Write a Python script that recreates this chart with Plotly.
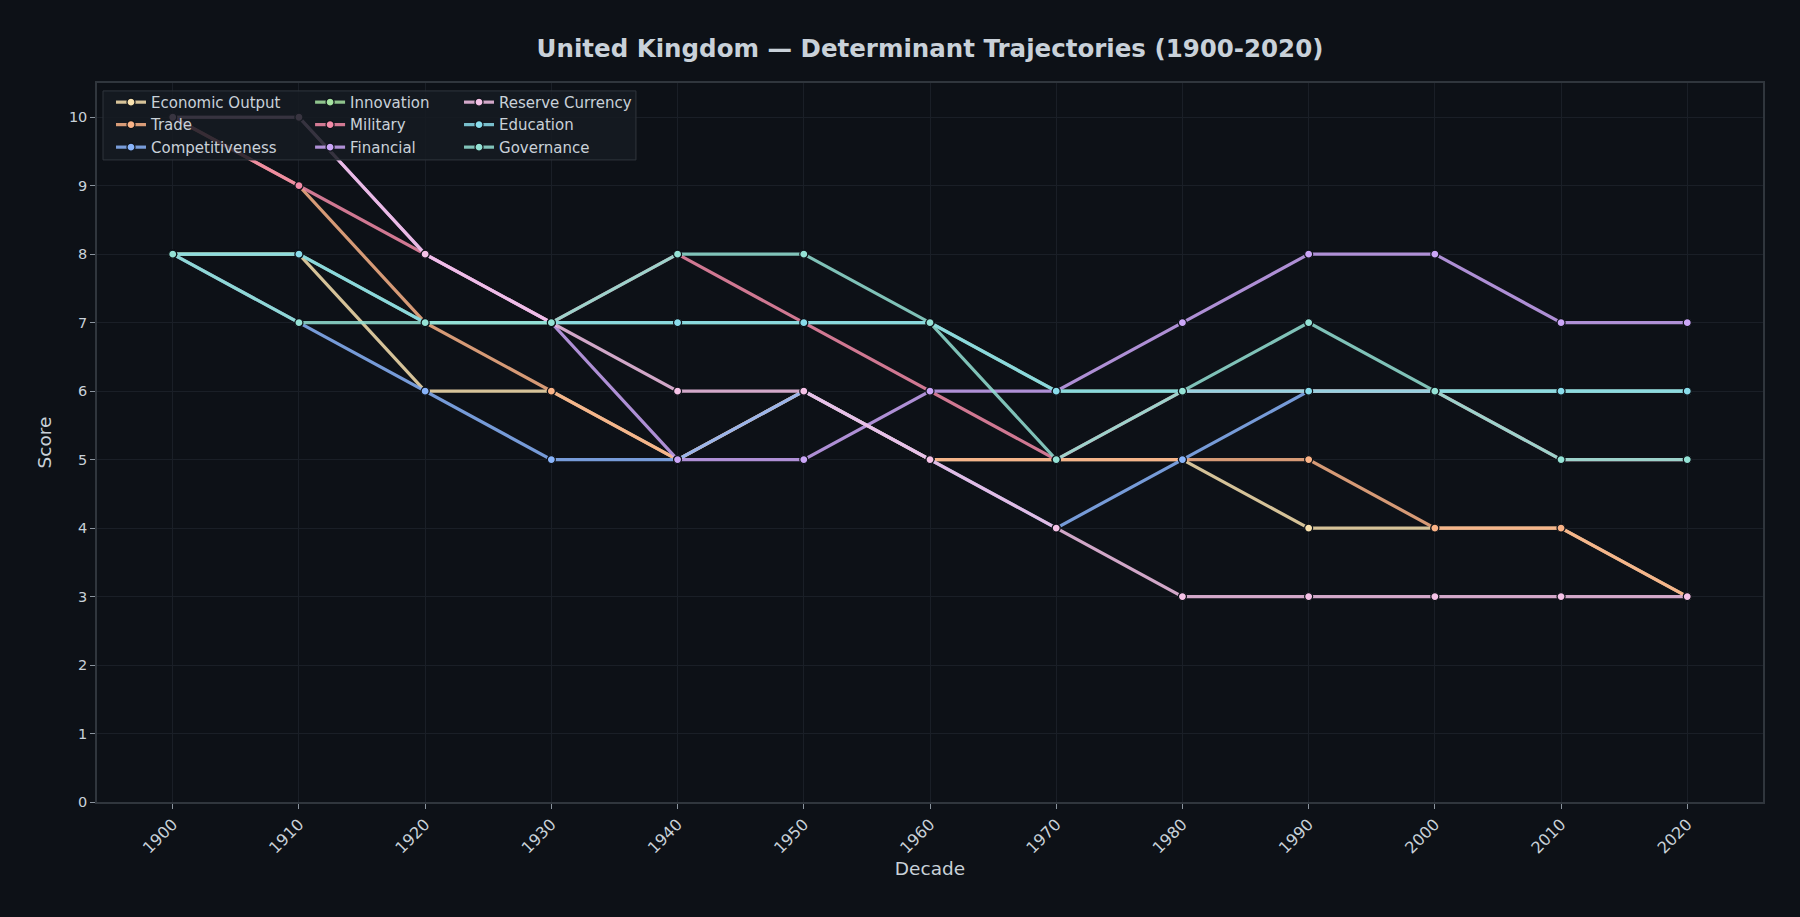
import plotly.graph_objects as go

# decades on the x axis
decades = [1900, 1910, 1920, 1930, 1940, 1950, 1960, 1970, 1980, 1990, 2000, 2010, 2020]

# determinant scores (0-10)
economic_output = [8, 8, 6, 6, 5, 6, 5, 5, 5, 4, 4, 4, 3]
trade = [10, 9, 7, 6, 5, 6, 5, 5, 5, 5, 4, 4, 3]
competitiveness = [8, 7, 6, 5, 5, 6, 5, 4, 5, 6, 6, 6, 6]
innovation = [8, 8, 7, 7, 7, 7, 7, 6, 6, 6, 6, 6, 6]
military = [10, 9, 8, 7, 8, 7, 6, 5, 6, 6, 6, 5, 5]
financial = [10, 10, 8, 7, 5, 5, 6, 6, 7, 8, 8, 7, 7]
reserve_currency = [10, 10, 8, 7, 6, 6, 5, 4, 3, 3, 3, 3, 3]
education = [8, 8, 7, 7, 7, 7, 7, 6, 6, 6, 6, 6, 6]
governance = [8, 7, 7, 7, 8, 8, 7, 5, 6, 7, 6, 5, 5]

# (name, values, colour, legend column) in drawing order
series = [
    ('Economic Output', economic_output, '#f9e2af', 'legend'),
    ('Trade', trade, '#fab387', 'legend'),
    ('Competitiveness', competitiveness, '#89b4fa', 'legend'),
    ('Innovation', innovation, '#a6e3a1', 'legend2'),
    ('Military', military, '#f38ba8', 'legend2'),
    ('Financial', financial, '#cba6f7', 'legend2'),
    ('Reserve Currency', reserve_currency, '#f5c2e7', 'legend3'),
    ('Education', education, '#89dceb', 'legend3'),
    ('Governance', governance, '#94e2d5', 'legend3'),
]

BG = '#0d1117'
TEXT = '#c9d1d9'
GRID = '#1a1f27'
SPINE = '#30363d'
FONT = 'DejaVu Sans'


def rgba(hexcol, a):
    h = hexcol.lstrip('#')
    r, g, b = int(h[0:2], 16), int(h[2:4], 16), int(h[4:6], 16)
    return f'rgba({r},{g},{b},{a})'


fig = go.Figure()
for name, vals, col, leg in series:
    fig.add_trace(go.Scatter(
        x=decades, y=vals, mode='lines+markers', name=name, legend=leg,
        line=dict(color=rgba(col, 0.85), width=3.2),
        marker=dict(color=col, size=8, line=dict(color=BG, width=1.2)),
    ))

# shared legend box (the three legends sit on top of it, transparent)
fig.add_shape(type='rect', xref='paper', yref='paper', layer='above',
              x0=0.0036, x1=0.3235, y0=0.893, y1=0.989,
              fillcolor='rgba(22,27,34,0.85)', line=dict(color=SPINE, width=1))

legend_common = dict(bgcolor='rgba(0,0,0,0)', borderwidth=0,
                     font=dict(family=FONT, size=15, color=TEXT),
                     xanchor='left', yanchor='top', y=0.996,
                     tracegroupgap=0, itemwidth=30)

fig.update_layout(
    width=1800, height=917,
    paper_bgcolor=BG, plot_bgcolor=BG,
    margin=dict(l=97, r=37, t=83, b=115),
    font=dict(family=FONT, color=TEXT),
    title=dict(text='<b>United Kingdom — Determinant Trajectories (1900-2020)</b>',
               x=0.5, xref='paper', xanchor='center',
               y=1 - 48 / 917, yref='container', yanchor='middle',
               font=dict(family=FONT, size=24.5, color=TEXT)),
    legend=dict(x=0.0084, **legend_common),
    legend2=dict(x=0.1279, **legend_common),
    legend3=dict(x=0.2173, **legend_common),
    xaxis=dict(
        title=dict(text='Decade', font=dict(size=18.5, color=TEXT), standoff=6),
        range=[1894, 2026], tickvals=decades, ticktext=[str(d) for d in decades],
        tickangle=-45, tickfont=dict(size=16, color=TEXT),
        showgrid=True, gridcolor=GRID, gridwidth=1, zeroline=False,
        showline=True, linecolor=SPINE, linewidth=1.5, mirror=True,
        ticks='outside', ticklen=5, tickcolor='#8b949e', automargin=False,
    ),
    yaxis=dict(
        title=dict(text='Score', font=dict(size=18.5, color=TEXT), standoff=12),
        range=[0, 10.5], dtick=1, tick0=0,
        tickfont=dict(size=14.5, color=TEXT),
        showgrid=True, gridcolor=GRID, gridwidth=1, zeroline=False,
        showline=True, linecolor=SPINE, linewidth=1.5, mirror=True,
        ticks='outside', ticklen=5, tickcolor='#8b949e', automargin=False,
    ),
)

fig.write_html('out.html', config={'displayModeBar': False},
               post_script="document.body.style.margin='0';"
                           "document.body.style.background='#0d1117';")
